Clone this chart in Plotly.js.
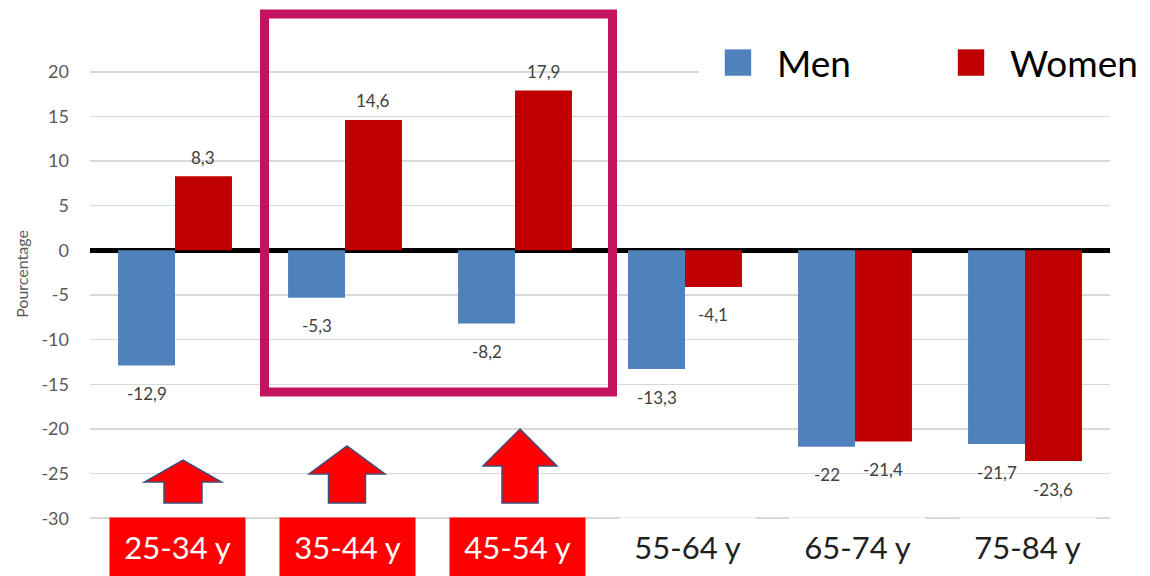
<!DOCTYPE html>
<html><head><meta charset="utf-8">
<script src="https://cdn.plot.ly/plotly-3.0.1.min.js"></script>
<style>html,body{margin:0;padding:0;background:#fff}#chart{width:1150px;height:576px}</style>
</head><body><div id="chart"></div>
<script>
// ---- data ----
const categories = ['25-34 y', '35-44 y', '45-54 y', '55-64 y', '65-74 y', '75-84 y'];
const menValues = [-12.9, -5.3, -8.2, -13.3, -22, -21.7];
const womenValues = [8.3, 14.6, 17.9, -4.1, -21.4, -23.6];
const seriesNames = ['Men', 'Women'];
const highlightedCategories = ['25-34 y', '35-44 y', '45-54 y'];
const yTickValues = [-30, -25, -20, -15, -10, -5, 0, 5, 10, 15, 20];
const yTickLabels = ['-30', '-25', '-20', '-15', '-10', '-5', '0', '5', '10', '15', '20'];
const yAxisTitle = 'Pourcentage';

// ---- layout helpers ----
const W = 1150, H = 576, M = {l: 90, r: 40, t: 28, b: 56, autoexpand: false};
const FONT = 'Lato, "Open Sans", sans-serif';
const plotW = W - M.l - M.r, plotH = H - M.t - M.b;
const px = x => (x - M.l) / plotW;
const py = y => (H - M.b - y) / plotH;
const fmt = v => String(v).replace('.', ',');

const traces = [
  {type: 'bar', name: seriesNames[0], x: categories, y: menValues,
   marker: {color: '#4F81BD', line: {width: 0}}, hoverinfo: 'skip'},
  {type: 'bar', name: seriesNames[1], x: categories, y: womenValues,
   marker: {color: '#C00000', line: {width: 0}}, hoverinfo: 'skip'}
];

const annotations = [];
[[menValues, -28], [womenValues, 28]].forEach(([vals, dx]) => {
  vals.forEach((v, i) => annotations.push({
    xref: 'x', yref: 'y', x: categories[i], y: v, xshift: dx, yshift: v < 0 ? -28 : 19,
    text: fmt(v), showarrow: false, font: {family: FONT, size: 17, color: '#404040'}
  }));
});
categories.forEach(c => {
  const hl = highlightedCategories.includes(c);
  annotations.push({
    xref: 'x', yref: 'paper', x: c, y: 0, yanchor: 'top', yshift: 3, xshift: 2,
    width: 135, height: 58, borderpad: 0, bgcolor: hl ? '#FF0000' : '#FFFFFF',
    text: c, showarrow: false, font: {family: FONT, size: 31, color: hl ? '#FFFFFF' : '#1F1F1F'}
  });
});

// decorative arrows (pixel geometry): centerX, tipY, headHalf, headBaseY, shaftHalf, bottomY
const arrowGeom = [
  [183, 460, 38.5, 482, 19, 503],
  [347, 446, 38, 474, 18.5, 503],
  [520, 429, 37, 466, 18, 503]
];
const shapes = arrowGeom.map(([cx, tip, hh, base, sh, bot]) => {
  const pts = [[cx - sh, bot], [cx - sh, base], [cx - hh, base], [cx, tip], [cx + hh, base], [cx + sh, base], [cx + sh, bot]];
  return {type: 'path', xref: 'paper', yref: 'paper',
    path: 'M' + pts.map(p => px(p[0]).toFixed(5) + ',' + py(p[1]).toFixed(5)).join('L') + 'Z',
    fillcolor: '#FF0000', line: {color: '#3E4C7E', width: 1.5}, layer: 'above'};
});
// highlight rectangle
shapes.push({type: 'rect', xref: 'paper', yref: 'paper', x0: px(264.5), x1: px(612.5), y0: py(392), y1: py(14),
  line: {color: '#C2135F', width: 9}, fillcolor: 'rgba(0,0,0,0)', layer: 'above'});

const layout = {
  width: W, height: H, margin: M,
  paper_bgcolor: '#FFFFFF', plot_bgcolor: '#FFFFFF',
  barmode: 'group', bargap: 0.33, bargroupgap: 0,
  font: {family: FONT},
  showlegend: true,
  legend: {orientation: 'h', x: px(699), xanchor: 'left', y: py(32), yanchor: 'top',
    bgcolor: '#FFFFFF', font: {family: FONT, size: 37, color: '#000000'},
    itemwidth: 68, entrywidth: 150, traceorder: 'normal', itemclick: false, itemdoubleclick: false},
  xaxis: {type: 'category', showticklabels: false, showgrid: false, zeroline: false, showline: false, ticks: '', fixedrange: true},
  yaxis: {range: [-30.2, 24.9], tickmode: 'array', tickvals: yTickValues, ticktext: yTickLabels,
    showgrid: true, gridcolor: '#D9D9D9', gridwidth: 1.5,
    zeroline: true, zerolinecolor: '#000000', zerolinewidth: 5, showline: false, ticks: '',
    ticklabelstandoff: 20, tickfont: {family: FONT, size: 18, color: '#595959'},
    title: {text: yAxisTitle, font: {family: FONT, size: 16, color: '#595959'}, standoff: 8}, fixedrange: true},
  annotations: annotations,
  shapes: shapes
};

Plotly.newPlot('chart', traces, layout, {displayModeBar: false, staticPlot: true}).then(gd => {
  gd.querySelectorAll('.legend .traces .legendpoints path').forEach(p => {
    const t = p.getAttribute('transform') || '';
    p.setAttribute('transform', t + ' scale(2.2)');
  });
});
</script>
</body></html>
